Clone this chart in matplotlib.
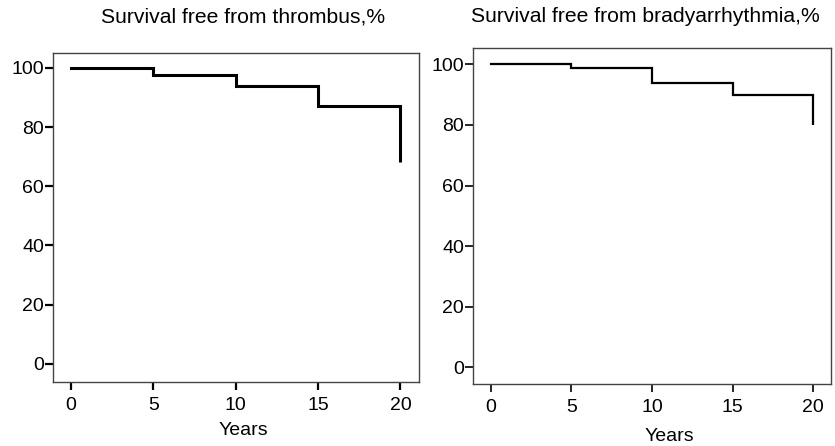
import matplotlib
matplotlib.use("Agg")
import matplotlib.pyplot as plt

plt.rcParams['font.family'] = ['Liberation Sans', 'DejaVu Sans']

# step curves (time in years, survival %)
years = [0, 5, 10, 15, 20]
thrombus = [100, 97.6, 93.9, 87.2, 87.2]
thrombus_end = 68.2
brady = [100, 98.7, 93.9, 89.9, 89.9]
brady_end = 80.0

titles = ["Survival free from thrombus,%", "Survival free from bradyarrhythmia,%"]
xticks = [0, 5, 10, 15, 20]
yticks = [0, 20, 40, 60, 80, 100]

W, H = 835, 446
fig = plt.figure(figsize=(W / 100, H / 100), dpi=100)

def box(x0, y0, x1, y1):
    return [x0 / W, 1 - y1 / H, (x1 - x0) / W, (y1 - y0) / H]

ax1 = fig.add_axes(box(53, 52.5, 418.5, 381.5))
ax2 = fig.add_axes(box(473, 48, 831, 383.5))

# axis, values, end point, ylim, xlim, line width, tick width, title x, years x/y
panels = [
    (ax1, thrombus, thrombus_end, (-6.0, 105.2), (-1.09, 21.1), 2.2, 1.6, 101, 0.52, -0.15),
    (ax2, brady, brady_end, (-5.3, 105.4), (-1.1, 21.1), 1.6, 1.2, 471, 0.549, -0.157),
]

for i, (ax, vals, end, ylim, xlim, lw, tw, tx, lx, ly) in enumerate(panels):
    ax.step(years, vals, where="post", color="black", lw=lw, solid_joinstyle="miter")
    ax.plot([years[-1], years[-1]], [vals[-1], end], color="black", lw=lw,
            solid_capstyle="butt")
    ax.set_xlim(*xlim)
    ax.set_ylim(*ylim)
    ax.set_xticks(xticks)
    ax.set_yticks(yticks)
    ax.tick_params(direction="out", length=5.5, width=tw, labelsize=14, colors="black")
    ax.tick_params(axis="x", pad=6)
    ax.tick_params(axis="y", pad=1)
    for s in ax.spines.values():
        s.set_color("#444444")
        s.set_linewidth(1.0)
    ax.set_xlabel("Years", fontsize=14, va="center")
    ax.xaxis.set_label_coords(lx, ly)
    fig.text(tx / W, 1 - 22.3 / H, titles[i], fontsize=15.2, ha="left", va="baseline")

fig.savefig("out.png", dpi=100)
